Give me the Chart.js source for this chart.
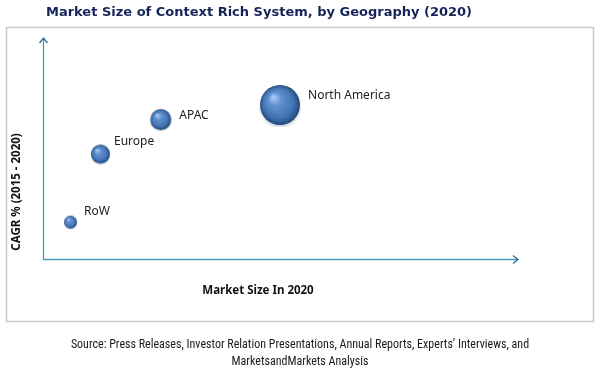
<!DOCTYPE html>
<html>
<head>
<meta charset="utf-8">
<script src="https://cdn.jsdelivr.net/npm/chart.js@4/dist/chart.umd.min.js"></script>
<style>
html,body{margin:0;padding:0;background:#fff;}
#wrap{position:relative;width:600px;height:372px;}
canvas{display:block;}
</style>
</head>
<body>
<div id="wrap"><canvas id="c" width="600" height="372"></canvas></div>
<script>
// ---- data ----
const regions = ["RoW", "Europe", "APAC", "North America"];
const marketSize = [5.8, 12.1, 24.8, 49.9];      // x (relative, no ticks shown)
const cagr = [16.7, 47.5, 63.1, 69.7];            // y (relative, no ticks shown)
const bubbleSize = [6.5, 9.5, 10.5, 20];          // bubble radius
const titleText = "Market Size of Context Rich System, by Geography (2020)";
const xTitle = "Market Size In 2020";
const yTitle = "CAGR % (2015 - 2020)";
const sourceLines = [
  "Source: Press Releases, Investor Relation Presentations, Annual Reports, Experts\u2019 Interviews, and",
  "MarketsandMarkets Analysis"
];

// label placement (style, not data)
const labelStyle = {
  "RoW": {dx: 7, dy: -11},
  "Europe": {dx: 4, dy: -12},
  "APAC": {dx: 8, dy: -4},
  "North America": {dx: 8, dy: -9}
};

// sphere image cache
const sphereCache = {};
function sphere(r) {
  if (sphereCache[r]) return sphereCache[r];
  const pad = 2;
  const s = Math.ceil(2 * r + pad * 2);
  const cv = document.createElement('canvas');
  cv.width = s; cv.height = s;
  const g = cv.getContext('2d');
  const c = s / 2;
  const sh = g.createRadialGradient(c, c + r * 0.15, r * 0.8, c, c + r * 0.15, r * 1.08);
  sh.addColorStop(0, 'rgba(60,80,110,0.3)');
  sh.addColorStop(1, 'rgba(60,80,110,0)');
  g.fillStyle = sh;
  g.beginPath(); g.arc(c, c + r * 0.15, r * 1.08, 0, Math.PI * 2); g.fill();
  const grad = g.createRadialGradient(c - r * 0.35, c - r * 0.4, r * 0.05, c, c, r);
  grad.addColorStop(0, '#a8c8f0');
  grad.addColorStop(0.3, '#5f90d0');
  grad.addColorStop(0.75, '#4274b4');
  grad.addColorStop(1, '#234878');
  g.fillStyle = grad;
  g.beginPath(); g.arc(c, c, r, 0, Math.PI * 2); g.fill();
  sphereCache[r] = cv;
  return cv;
}

const CA = {left: 43, top: 38, right: 518, bottom: 259};

const decor = {
  id: 'decor',
  beforeDraw(chart) {
    const ctx = chart.ctx;
    ctx.save();
    ctx.fillStyle = '#fff';
    ctx.fillRect(0, 0, chart.width, chart.height);
    ctx.strokeStyle = '#c8c8c8';
    ctx.lineWidth = 1.5;
    ctx.strokeRect(6.5, 27.5, 587, 294);
    ctx.fillStyle = '#14245a';
    ctx.font = 'bold 13px "DejaVu Sans", Verdana, sans-serif';
    ctx.textAlign = 'center';
    ctx.textBaseline = 'middle';
    ctx.fillText(titleText, 259, 13);
    const a = chart.chartArea;
    ctx.strokeStyle = '#4a98bd';
    ctx.lineWidth = 1.3;
    ctx.beginPath();
    ctx.moveTo(a.left + 0.5, a.bottom);
    ctx.lineTo(a.left + 0.5, a.top);
    ctx.moveTo(a.left, a.bottom + 0.5);
    ctx.lineTo(a.right, a.bottom + 0.5);
    ctx.stroke();
    ctx.strokeStyle = '#2f6f96';
    ctx.beginPath();
    ctx.moveTo(a.left - 3.5, a.top + 5);
    ctx.lineTo(a.left + 0.5, a.top);
    ctx.lineTo(a.left + 4.5, a.top + 5);
    ctx.moveTo(a.right - 5, a.bottom - 3.5);
    ctx.lineTo(a.right, a.bottom + 0.5);
    ctx.lineTo(a.right - 5, a.bottom + 4.5);
    ctx.stroke();
    ctx.fillStyle = '#111';
    ctx.font = 'bold 11.5px "Noto Sans", "Open Sans", sans-serif';
    ctx.textAlign = 'center';
    ctx.textBaseline = 'middle';
    ctx.fillText(xTitle, 258, 291);
    ctx.save();
    ctx.translate(17, 192);
    ctx.rotate(-Math.PI / 2);
    ctx.fillText(yTitle, 0, 0);
    ctx.restore();
    ctx.fillStyle = '#1a1a1a';
    ctx.font = '12px "Liberation Sans Narrow", "Roboto Condensed", Roboto, sans-serif';
    ctx.fillText(sourceLines[0], 300, 345);
    ctx.fillText(sourceLines[1], 300, 362);
    ctx.restore();
  },
  afterDatasetsDraw(chart) {
    const ctx = chart.ctx;
    const meta = chart.getDatasetMeta(0);
    ctx.save();
    ctx.fillStyle = '#222';
    ctx.font = '12px "Noto Sans", "Open Sans", sans-serif';
    ctx.textAlign = 'left';
    ctx.textBaseline = 'middle';
    meta.data.forEach((el, i) => {
      const st = labelStyle[regions[i]];
      ctx.fillText(regions[i], el.x + bubbleSize[i] + st.dx, el.y + st.dy);
    });
    ctx.restore();
  }
};

new Chart(document.getElementById('c'), {
  type: 'bubble',
  data: {
    labels: regions,
    datasets: [{
      data: regions.map((n, i) => ({x: marketSize[i], y: cagr[i], r: bubbleSize[i]})),
      pointStyle: (ctx) => sphere(bubbleSize[ctx.dataIndex]),
      backgroundColor: '#4f82c6',
      borderWidth: 0
    }]
  },
  options: {
    responsive: false,
    animation: false,
    devicePixelRatio: 1,
    layout: {padding: {left: CA.left, top: CA.top, right: 600 - CA.right, bottom: 372 - CA.bottom}},
    plugins: {legend: {display: false}, title: {display: false}, tooltip: {enabled: false}},
    scales: {
      x: {type: 'linear', min: 0, max: 100, display: false},
      y: {type: 'linear', min: 0, max: 100, display: false}
    }
  },
  plugins: [decor]
});
</script>
</body>
</html>
